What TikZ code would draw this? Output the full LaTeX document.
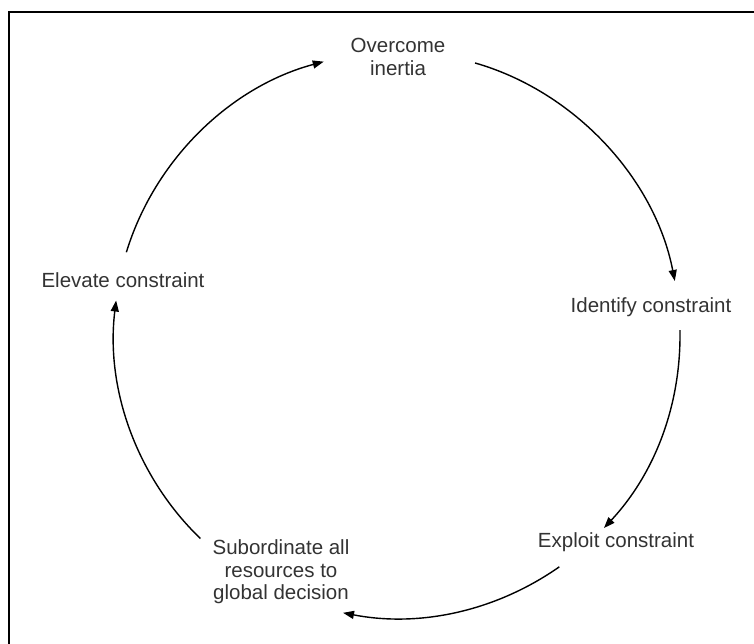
\documentclass[tikz,border=0pt]{standalone}
\usepackage{fontspec}
\setmainfont{Liberation Sans}
\usetikzlibrary{arrows.meta,calc}
\tikzset{
  stage/.style={font=\fontsize{20.5}{22.5}\selectfont,text=black!80,align=center,inner sep=0pt},
  cyc/.style={-{Triangle[length=11pt,width=8pt]},draw=black,line width=1.4pt,looseness=.9},
  frame/.style={draw=black,line width=2.6pt},
}
\begin{document}
\begin{tikzpicture}[x=1pt,y=1pt]
  \useasboundingbox (0,0) rectangle (754,-644);
  % --- frame (only top and left edges show)
  \draw[frame] (9,-644) -- (9,-12) -- (754,-12);
  % --- the five stages
  \node[stage] (over)  at (398,-57)  {Overcome\\inertia};
  \node[stage] (ident) at (651,-307) {Identify constraint};
  \node[stage] (expl)  at (616,-542) {Exploit constraint};
  \node[stage] (subo)  at (281,-572) {Subordinate all\\resources to\\global decision};
  \node[stage] (elev)  at (123,-280) {Elevate constraint};
  % --- points on the cycle
  \coordinate (c) at (397,-335);
  \coordinate (o-out) at ($(c)+(74:283)$);
  \coordinate (i-in)  at ($(c)+(11:283)$);
  \coordinate (i-out) at ($(c)+(1:283)$);
  \coordinate (e-in)  at ($(c)+(-43:283)$);
  \coordinate (e-out) at ($(c)+(-55:283)$);
  \coordinate (s-in)  at ($(c)+(-101:283)$);
  \coordinate (s-out) at ($(c)+(226:283)$);
  \coordinate (v-in)  at ($(c)+(173:283)$);
  \coordinate (v-out) at ($(c)+(163:283)$);
  \coordinate (o-in)  at ($(c)+(105:283)$);
  % --- arrows round the cycle
  \draw[cyc] (o-out) to[bend left=31.5] (i-in);
  \draw[cyc] (i-out) to[bend left=22] (e-in);
  \draw[cyc] (e-out) to[bend left=23] (s-in);
  \draw[cyc] (s-out) to[bend left=26.5] (v-in);
  \draw[cyc] (v-out) to[bend left=29] (o-in);
\end{tikzpicture}
\end{document}
